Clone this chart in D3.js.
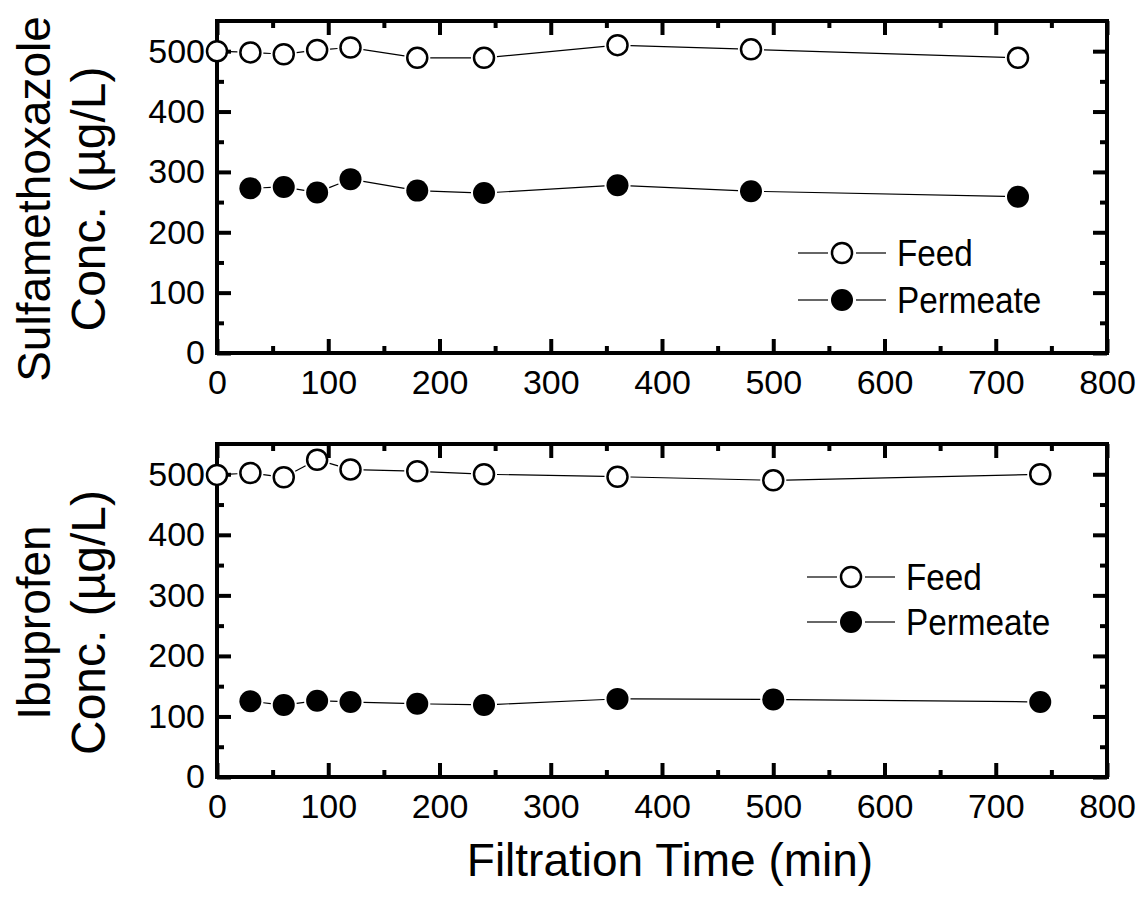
<!DOCTYPE html>
<html>
<head>
<meta charset="utf-8">
<script src="https://cdn.jsdelivr.net/npm/d3@7"></script>
<style>
  body { margin: 0; background: #fff; }
  text { font-family: "Liberation Sans", Arial, sans-serif; fill: #000; }
</style>
</head>
<body>
<div id="chart"></div>
<script>
// Sulfamethoxazole panel
const smxTimeFeed = [0, 30, 60, 90, 120, 180, 240, 360, 480, 720];
const smxFeed     = [500, 498, 495, 502, 506, 489, 489, 510, 503, 489];
const smxTimePerm = [30, 60, 90, 120, 180, 240, 360, 480, 720];
const smxPerm     = [273, 275, 266, 288, 269, 265, 278, 268, 259];

// Ibuprofen panel
const ibuTimeFeed = [0, 30, 60, 90, 120, 180, 240, 360, 500, 740];
const ibuFeed     = [499, 502, 495, 524, 508, 505, 500, 496, 490, 500];
const ibuTimePerm = [30, 60, 90, 120, 180, 240, 360, 500, 740];
const ibuPerm     = [125, 119, 126, 124, 121, 119, 129, 128, 124];

const xTicks = [0, 100, 200, 300, 400, 500, 600, 700, 800];
const yTicks = [0, 100, 200, 300, 400, 500];
const seriesNames = ['Feed', 'Permeate'];

const W = 1143, H = 897;
const svg = d3.select('#chart').append('svg')
    .attr('width', W)
    .attr('height', H);

const left = 217, right = 1107;
const x = d3.scaleLinear().domain([0, 800]).range([left, right]);

function drawPanel(opts) {
    const y = d3.scaleLinear().domain([0, 550]).range([opts.bottom, opts.top]);
    const g = svg.append('g');

    // minor ticks, all four sides
    const minorX = d3.range(50, 800, 100);
    const minorY = d3.range(50, 550, 100);
    const majorTick = 14, minorTick = 7;

    function styleAxis(sel) {
        sel.select('.domain').remove();
        sel.selectAll('line').attr('stroke', '#000').attr('stroke-width', 4);
        sel.selectAll('text').style('font-size', '34px');
    }

    g.append('g').attr('transform', `translate(0,${opts.bottom})`)
        .call(d3.axisBottom(x).tickValues(xTicks).tickSize(-majorTick).tickPadding(17).tickFormat(d3.format('d')))
        .call(styleAxis);
    g.append('g').attr('transform', `translate(0,${opts.bottom})`)
        .call(d3.axisBottom(x).tickValues(minorX).tickSize(-minorTick).tickFormat(''))
        .call(styleAxis);
    g.append('g').attr('transform', `translate(0,${opts.top})`)
        .call(d3.axisTop(x).tickValues(xTicks).tickSize(-majorTick).tickFormat(''))
        .call(styleAxis);
    g.append('g').attr('transform', `translate(0,${opts.top})`)
        .call(d3.axisTop(x).tickValues(minorX).tickSize(-minorTick).tickFormat(''))
        .call(styleAxis);

    g.append('g').attr('transform', `translate(${left},0)`)
        .call(d3.axisLeft(y).tickValues(yTicks).tickSize(-majorTick).tickPadding(12).tickFormat(d3.format('d')))
        .call(styleAxis);
    g.append('g').attr('transform', `translate(${left},0)`)
        .call(d3.axisLeft(y).tickValues(minorY).tickSize(-minorTick).tickFormat(''))
        .call(styleAxis);
    g.append('g').attr('transform', `translate(${right},0)`)
        .call(d3.axisRight(y).tickValues(yTicks).tickSize(-majorTick).tickFormat(''))
        .call(styleAxis);
    g.append('g').attr('transform', `translate(${right},0)`)
        .call(d3.axisRight(y).tickValues(minorY).tickSize(-minorTick).tickFormat(''))
        .call(styleAxis);

    // frame
    g.append('rect')
        .attr('x', left).attr('y', opts.top)
        .attr('width', right - left).attr('height', opts.bottom - opts.top)
        .attr('fill', 'none').attr('stroke', '#000').attr('stroke-width', 4);

    // connecting lines, stopped short of each marker
    const series = [
        { xs: opts.timeFeed, ys: opts.feed, open: true },
        { xs: opts.timePerm, ys: opts.perm, open: false }
    ];
    series.forEach(s => {
        const pts = s.xs.map((t, i) => [x(t), y(s.ys[i])]);
        const gap = 13;
        for (let i = 0; i < pts.length - 1; i++) {
            const [x1, y1] = pts[i], [x2, y2] = pts[i + 1];
            const len = Math.hypot(x2 - x1, y2 - y1);
            if (len <= 2 * gap) continue;
            const ux = (x2 - x1) / len, uy = (y2 - y1) / len;
            g.append('line')
                .attr('x1', x1 + ux * gap).attr('y1', y1 + uy * gap)
                .attr('x2', x2 - ux * gap).attr('y2', y2 - uy * gap)
                .attr('stroke', '#000').attr('stroke-width', 1.2);
        }
        g.selectAll(null).data(pts).join('circle')
            .attr('cx', d => d[0]).attr('cy', d => d[1])
            .attr('r', s.open ? 10 : 11)
            .attr('fill', s.open ? '#fff' : '#000')
            .attr('stroke', '#000')
            .attr('stroke-width', s.open ? 2.5 : 0);
    });

    // legend
    seriesNames.forEach((name, i) => {
        const ly = opts.legendY[i];
        const lx = opts.legendX;
        g.append('line').attr('x1', lx).attr('x2', lx + 30).attr('y1', ly).attr('y2', ly)
            .attr('stroke', '#000').attr('stroke-width', 1.2);
        g.append('line').attr('x1', lx + 58).attr('x2', lx + 88).attr('y1', ly).attr('y2', ly)
            .attr('stroke', '#000').attr('stroke-width', 1.2);
        g.append('circle').attr('cx', lx + 44).attr('cy', ly)
            .attr('r', i === 0 ? 10 : 11)
            .attr('fill', i === 0 ? '#fff' : '#000')
            .attr('stroke', '#000').attr('stroke-width', i === 0 ? 2.5 : 0);
        g.append('text')
            .attr('transform', `translate(${lx + 99},${ly + 13}) scale(0.9,1)`)
            .style('font-size', '37px').text(name);
    });

    // y title, two lines
    const cy = (opts.top + opts.bottom) / 2 + 12;
    g.append('text').attr('transform', `translate(50,${cy}) rotate(-90)`)
        .attr('text-anchor', 'middle').style('font-size', '46px').text(opts.title);
    g.append('text').attr('transform', `translate(105,${cy}) rotate(-90)`)
        .attr('text-anchor', 'middle').style('font-size', '48px').text('Conc. (\u00b5g/L)');
}

drawPanel({
    top: 21, bottom: 353,
    timeFeed: smxTimeFeed, feed: smxFeed, timePerm: smxTimePerm, perm: smxPerm,
    legendX: 798, legendY: [253, 300],
    title: 'Sulfamethoxazole'
});

drawPanel({
    top: 444, bottom: 777,
    timeFeed: ibuTimeFeed, feed: ibuFeed, timePerm: ibuTimePerm, perm: ibuPerm,
    legendX: 807, legendY: [577, 622],
    title: 'Ibuprofen'
});

svg.append('text')
    .attr('x', 670).attr('y', 876)
    .attr('text-anchor', 'middle')
    .style('font-size', '46px')
    .text('Filtration Time (min)');
</script>
</body>
</html>
